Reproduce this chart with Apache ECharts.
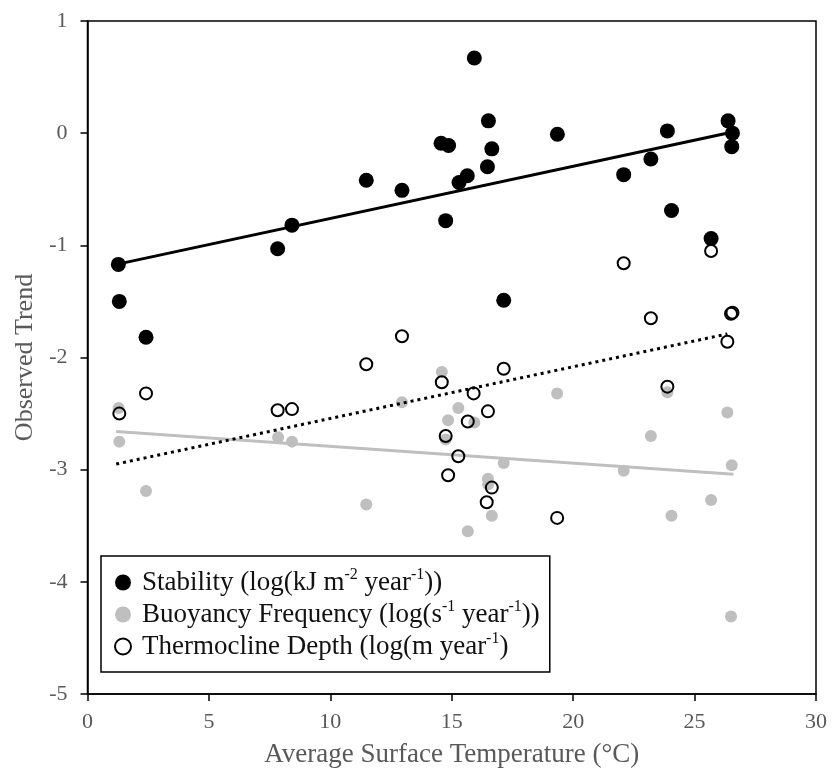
<!DOCTYPE html>
<html>
<head>
<meta charset="utf-8">
<style>
  html, body { margin: 0; padding: 0; background: #fff; }
  #chart { width: 832px; height: 769px; }
</style>
<script src="https://cdn.jsdelivr.net/npm/echarts@6/dist/echarts.min.js"></script>
</head>
<body>
<div id="chart"></div>
<script>
// Average surface temperature (°C) and observed trends per lake
var stability = [
  [1.27, -1.17], [1.31, -1.50], [2.41, -1.82], [7.83, -1.03], [8.42, -0.82],
  [11.48, -0.42], [12.95, -0.51], [14.56, -0.09], [14.87, -0.11], [14.75, -0.78],
  [15.30, -0.44], [15.64, -0.38], [15.93, 0.67], [16.47, -0.30], [16.51, 0.11],
  [16.65, -0.14], [17.14, -1.49], [19.35, -0.01], [22.08, -0.37], [23.20, -0.23],
  [23.88, 0.02], [24.05, -0.69], [25.68, -0.94], [26.38, 0.11], [26.56, 0.00],
  [26.53, -0.12]
];
var buoyancy = [
  [1.28, -2.45], [1.31, -2.75], [2.41, -3.19], [7.85, -2.71], [8.42, -2.75],
  [11.48, -3.31], [12.95, -2.40], [14.59, -2.13], [14.85, -2.56], [14.75, -2.73],
  [15.27, -2.45], [15.93, -2.58], [17.14, -2.94], [16.49, -3.08], [16.50, -3.13],
  [16.65, -3.41], [15.66, -3.55], [19.34, -2.32], [22.08, -3.01], [23.20, -2.70],
  [23.88, -2.31], [24.05, -3.41], [25.68, -3.27], [26.35, -2.49], [26.53, -2.96],
  [26.50, -4.31]
];
var thermocline = [
  [1.31, -2.50], [2.41, -2.32], [7.83, -2.47], [8.42, -2.46], [11.48, -2.06],
  [12.95, -1.81], [14.59, -2.22], [14.75, -2.70], [14.85, -3.05], [15.27, -2.88],
  [15.66, -2.57], [15.90, -2.32], [16.44, -3.29], [16.49, -2.48], [16.65, -3.16],
  [17.14, -2.10], [19.34, -3.43], [22.08, -1.16], [23.20, -1.65], [23.88, -2.26],
  [25.68, -1.05], [26.35, -1.86], [26.50, -1.61], [26.56, -1.60]
];

// Fitted linear trends (end points of each fitted line)
var stabilityFit = [[1.2, -1.17], [26.33, 0.0]];
var buoyancyFit = [[1.18, -2.66], [26.6, -3.04]];
var thermoclineFit = [[1.18, -2.95], [26.35, -1.79]];

var xTicks = { min: 0, max: 30, step: 5 };
var yTicks = { min: -5, max: 1, step: 1 };

var names = [
  'Stability (log(kJ m-2 year-1))',
  'Buoyancy Frequency (log(s-1 year-1))',
  'Thermocline Depth (log(m year-1)'
];
var legendText = {};
legendText[names[0]] = '{sp| }{t|Stability (log(kJ m}{s|-2}{t| year}{s|-1}{t|))}';
legendText[names[1]] = '{sp| }{t|Buoyancy Frequency (log(s}{s|-1}{t| year}{s|-1}{t|))}';
legendText[names[2]] = '{sp| }{t|Thermocline Depth (log(m year}{s|-1}{t|)}';

var serif = 'Liberation Serif';
var tickGray = '#595959';

var chart = echarts.init(document.getElementById('chart'), null, { renderer: 'canvas' });
chart.setOption({
  animation: false,
  backgroundColor: '#fff',
  textStyle: { fontFamily: serif },
  grid: {
    left: 87.5, right: 16, top: 21, bottom: 75,
    outerBoundsMode: 'none', containLabel: false,
    show: true, borderColor: '#000', borderWidth: 1.5, backgroundColor: 'transparent'
  },
  xAxis: {
    type: 'value', min: xTicks.min, max: xTicks.max, interval: xTicks.step,
    name: 'Average Surface Temperature (°C)', nameLocation: 'middle', nameGap: 47,
    nameTextStyle: { fontFamily: serif, fontSize: 27, color: tickGray },
    axisLine: { show: true, onZero: false, lineStyle: { color: '#000', width: 1.5 } },
    axisTick: { show: true, inside: false, length: 7, lineStyle: { color: '#000', width: 1.5 } },
    axisLabel: { fontFamily: serif, fontSize: 22, color: tickGray, margin: 17 },
    splitLine: { show: false }
  },
  yAxis: {
    type: 'value', min: yTicks.min, max: yTicks.max, interval: yTicks.step,
    name: 'Observed Trend', nameLocation: 'middle', nameGap: 49,
    nameTextStyle: { fontFamily: serif, fontSize: 26, color: tickGray },
    axisLine: { show: true, onZero: false, lineStyle: { color: '#000', width: 1.5 } },
    axisTick: { show: true, inside: false, length: 7, lineStyle: { color: '#000', width: 1.5 } },
    axisLabel: { fontFamily: serif, fontSize: 22, color: tickGray, margin: 20 },
    splitLine: { show: false }
  },
  legend: {
    orient: 'vertical', left: 101, top: 556,
    padding: [11, 10, 12, 13], itemGap: 3,
    itemWidth: 16, itemHeight: 16,
    borderColor: '#000', borderWidth: 1.5, backgroundColor: '#fff',
    data: names,
    formatter: function (n) { return legendText[n]; },
    textStyle: {
      fontFamily: serif, color: '#111',
      rich: {
        sp: { width: 6, fontSize: 27 },
        t: { fontFamily: serif, fontSize: 27, color: '#111', lineHeight: 31 },
        s: { fontFamily: serif, fontSize: 16, color: '#111', lineHeight: 31, verticalAlign: 'top', padding: [0, 0, 8, 0] }
      }
    }
  },
  series: [
    {
      name: names[1], type: 'scatter', data: buoyancy, z: 2,
      symbol: 'circle', symbolSize: 12,
      itemStyle: { color: '#bfbfbf', opacity: 1 }
    },
    {
      type: 'line', data: buoyancyFit, z: 3, symbol: 'none', silent: true,
      lineStyle: { color: '#bfbfbf', width: 3 }
    },
    {
      name: names[0], type: 'scatter', data: stability, z: 4,
      symbol: 'circle', symbolSize: 15,
      itemStyle: { color: '#000', opacity: 1 }
    },
    {
      type: 'line', data: stabilityFit, z: 5, symbol: 'none', silent: true,
      lineStyle: { color: '#000', width: 3 }
    },
    {
      name: names[2], type: 'scatter', data: thermocline, z: 6,
      symbol: 'circle', symbolSize: 12,
      itemStyle: { color: 'rgba(255,255,255,0)', borderColor: '#000', borderWidth: 2, opacity: 1 }
    },
    {
      type: 'line', data: thermoclineFit, z: 7, symbol: 'none', silent: true,
      lineStyle: { color: '#000', width: 3, type: [3, 4] }
    }
  ]
});
</script>
</body>
</html>
